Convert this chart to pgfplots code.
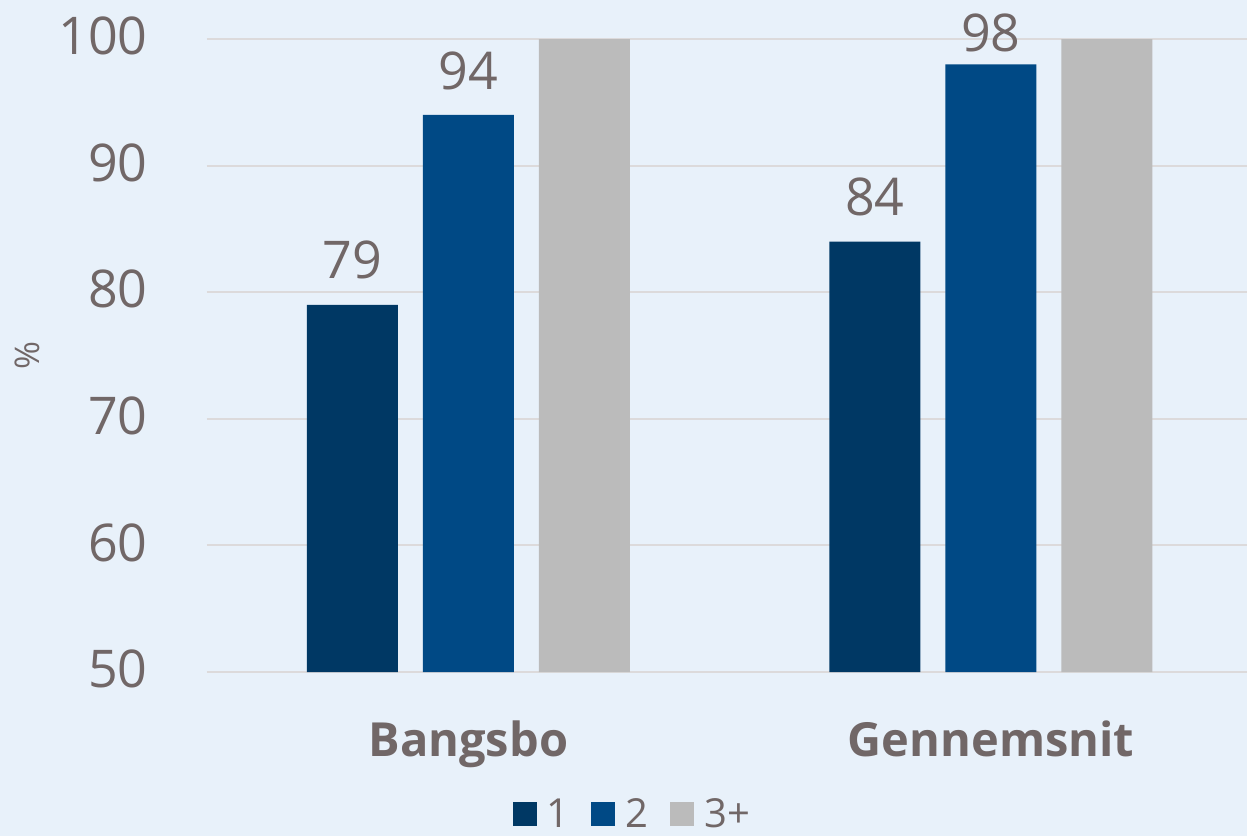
\documentclass[border=0pt]{standalone}
\usepackage{fontspec}
\setmainfont{Open Sans}
\usepackage{pgfplots}
\pgfplotsset{compat=1.18}
\usetikzlibrary{backgrounds,calc}
\definecolor{bgc}{HTML}{E8F1FA}
\definecolor{gridc}{HTML}{DCDADB}
\definecolor{txt}{HTML}{716767}
\definecolor{cA}{HTML}{003864}
\definecolor{cB}{HTML}{004985}
\definecolor{cC}{HTML}{BBBBBB}

\begin{document}
\begin{tikzpicture}
\begin{axis}[
  name=ax,
  scale only axis,
  width=520pt, height=316.5pt,
  ybar=12.5pt, bar width=45.5pt,
  xmin=-0.5, xmax=1.49,
  ymin=50, ymax=100,
  ytick={50,60,...,100},
  xtick={0,1}, xticklabels={Bangsbo,Gennemsnit},
  axis line style={draw=none},
  major tick length=0pt,
  ymajorgrids, grid style={gridc, line width=1pt},
  /pgf/number format/assume math mode=true,
  yticklabel style={font=\fontsize{26}{30}\selectfont, text=txt, anchor=east, inner sep=0pt, yshift=1.5pt},
  yticklabel shift=29.5pt,
  xticklabel style={font=\fontsize{23.5}{28}\selectfont\bfseries, text=txt, anchor=north, inner sep=0pt},
  xticklabel shift=24pt,
  ylabel={\%},
  every axis y label/.style={at={(axis description cs:-0.173,0.5)}, rotate=90, anchor=center, font=\fontsize{17}{20}\selectfont, text=txt},
  visualization depends on={y \as \ry},
  every node near coord/.append style={font=\fontsize{26}{30}\selectfont, text=txt, anchor=south, inner sep=0pt, yshift={12.5-6.5*(\ry>97)}},
  legend columns=-1,
  legend style={at={(axis description cs:0.408,-0.225)}, anchor=center, draw=none, fill=none,
    font=\fontsize{20}{24}\selectfont, text=txt,
    nodes={inner sep=0pt, anchor=west},
    /tikz/every odd column/.append style={column sep=5pt},
    /tikz/every even column/.append style={column sep=11pt}},
  legend image code/.code={\fill[#1] (0pt,-6pt) rectangle (12pt,6pt);},
]
\addplot[fill=cA, draw=none, nodes near coords] coordinates {(0,79) (1,84)};
\addplot[fill=cB, draw=none, nodes near coords] coordinates {(0,94) (1,98)};
\addplot[fill=cC, draw=none] coordinates {(0,100) (1,100)};
\legend{1,2,3+}
\end{axis}
\begin{scope}[on background layer]
\fill[bgc] ($(ax.south west)+(-103.5pt,-82pt)$) rectangle ($(ax.north east)+(0pt,19.5pt)$);
\end{scope}
\pgfresetboundingbox
\useasboundingbox ($(ax.south west)+(-103.5pt,-82pt)$) rectangle ($(ax.north east)+(0pt,19.5pt)$);
\end{tikzpicture}
\end{document}
